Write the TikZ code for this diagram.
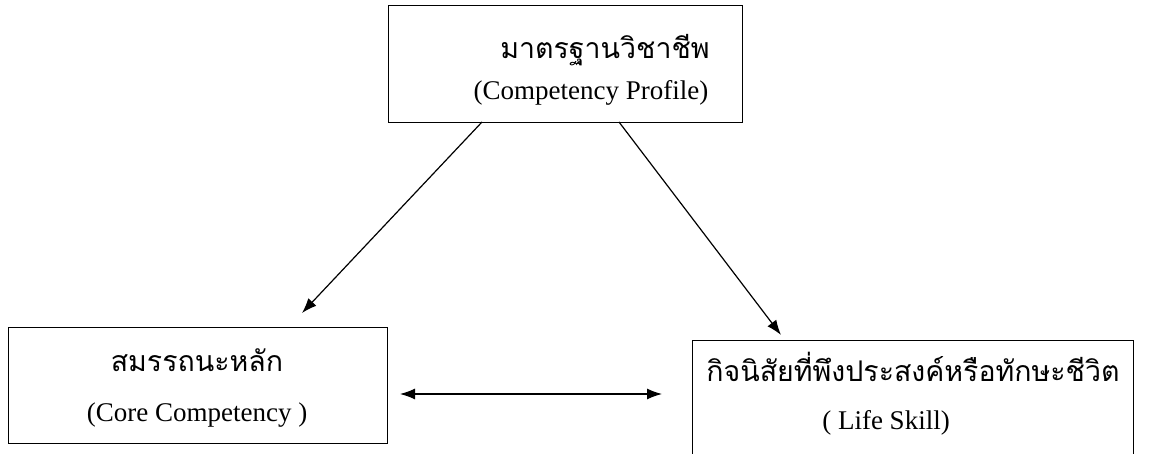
\documentclass[tikz,border=0pt]{standalone}
\usepackage{fontspec}
\setmainfont{Liberation Serif}
\newfontfamily\thaifont[Script=Thai]{Loma}
\usetikzlibrary{arrows.meta}
\begin{document}
\begin{tikzpicture}[x=1pt,y=1pt,
  box/.style={draw, line width=1.2pt, inner sep=0pt, anchor=north west},
  th/.style={font=\thaifont\fontsize{28.5}{32}\selectfont, inner sep=0pt},
  en/.style={font=\fontsize{27}{31}\selectfont, inner sep=0pt},
  link/.style={line width=1.2pt, -{Latex[length=15pt,width=11pt]}},
  both/.style={line width=1.2pt, {Latex[length=15pt,width=11pt]}-{Latex[length=15pt,width=11pt]}}]
\useasboundingbox (0,0) rectangle (1153,454);
% boxes
\node[box, minimum width=354pt, minimum height=117pt] (top) at (388,449) {};
\node[box, minimum width=379pt, minimum height=116pt] (left) at (8,127) {};
\node[box, minimum width=441pt, minimum height=140pt] (right) at (692,114) {};
% texts
\node[th] (topth) at (605,404) {มาตรฐานวิชาชีพ};
\node[en] (topen) at (591,361) {(Competency Profile)};
\node[th] (leftth) at (197,94) {สมรรถนะหลัก};
\node[en] (leften) at (197,39) {(Core Competency )};
\node[th] (rightth) at (913,87) {กิจนิสัยที่พึงประสงค์หรือทักษะชีวิต};
\node[en] (righten) at (886,31) {( Life Skill)};
% connectors
\coordinate (a1) at (482,332);
\coordinate (a2) at (302,141);
\coordinate (b1) at (619,332);
\coordinate (b2) at (781,119);
\coordinate (c1) at (400,60);
\coordinate (c2) at (662,60);
\draw[link] (a1) -- (a2);
\draw[link] (b1) -- (b2);
\draw[both] (c1) -- (c2);
\end{tikzpicture}
\end{document}
